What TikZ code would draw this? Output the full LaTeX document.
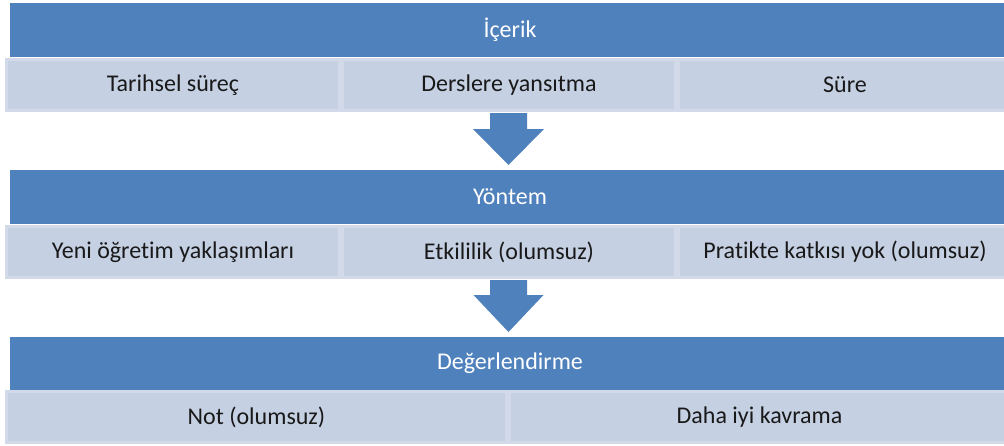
\documentclass[tikz,border=0pt]{standalone}
\usepackage{fontspec}
\setmainfont{Carlito}[Ligatures=NoCommon]
\definecolor{headblue}{RGB}{79,129,189}
\definecolor{subfill}{RGB}{197,208,227}
\definecolor{subedge}{RGB}{210,218,233}
\tikzset{
  headbox/.style={fill=headblue, draw=none, minimum width=1000pt, minimum height=54pt,
    inner sep=0pt, outer sep=0pt, text=white, font=\fontsize{24}{28}\selectfont},
  subbox/.style={fill=subfill, draw=subedge, line width=3pt, minimum height=51pt,
    inner sep=0pt, outer sep=0pt, text=black!90, font=\fontsize{24}{28}\selectfont},
  blockarrow/.style={fill=headblue, draw=none}
}
\begin{document}
\begin{tikzpicture}[x=1pt,y=-1pt]
\useasboundingbox (0,0) rectangle (1004,445);
% section 1
\node[headbox] (h1) at (510,30) {İçerik};
\node[subbox, minimum width=333pt] (s11) at (173,85) {Tarihsel süreç};
\node[subbox, minimum width=333pt] (s12) at (509,85) {Derslere yansıtma};
\node[subbox, minimum width=333pt] (s13) at (845,85) {Süre};
% arrow 1
\coordinate (a1) at (508.5,113);
\fill[blockarrow] ([xshift=-18.5pt]a1) -- ([xshift=18.5pt]a1) -- ([xshift=18.5pt,yshift=-16pt]a1)
  -- ([xshift=35.5pt,yshift=-16pt]a1) -- ([yshift=-52pt]a1) -- ([xshift=-35.5pt,yshift=-16pt]a1)
  -- ([xshift=-18.5pt,yshift=-16pt]a1) -- cycle;
% section 2
\node[headbox] (h2) at (510,196.5) {Yöntem};
\node[subbox, minimum width=333pt] (s21) at (173,252) {Yeni öğretim yaklaşımları};
\node[subbox, minimum width=333pt] (s22) at (509,252) {Etkililik (olumsuz)};
\node[subbox, minimum width=333pt] (s23) at (845,252) {Pratikte katkısı yok (olumsuz)};
% arrow 2
\coordinate (a2) at (508.5,280);
\fill[blockarrow] ([xshift=-18.5pt]a2) -- ([xshift=18.5pt]a2) -- ([xshift=18.5pt,yshift=-15pt]a2)
  -- ([xshift=35pt,yshift=-15pt]a2) -- ([yshift=-52pt]a2) -- ([xshift=-35pt,yshift=-15pt]a2)
  -- ([xshift=-18.5pt,yshift=-15pt]a2) -- cycle;
% section 3
\node[headbox] (h3) at (510,363.5) {Değerlendirme};
\node[subbox, minimum width=500pt] (s31) at (256.5,417) {Not (olumsuz)};
\node[subbox, minimum width=500pt] (s32) at (759.5,417) {Daha iyi kavrama};
\end{tikzpicture}
\end{document}
